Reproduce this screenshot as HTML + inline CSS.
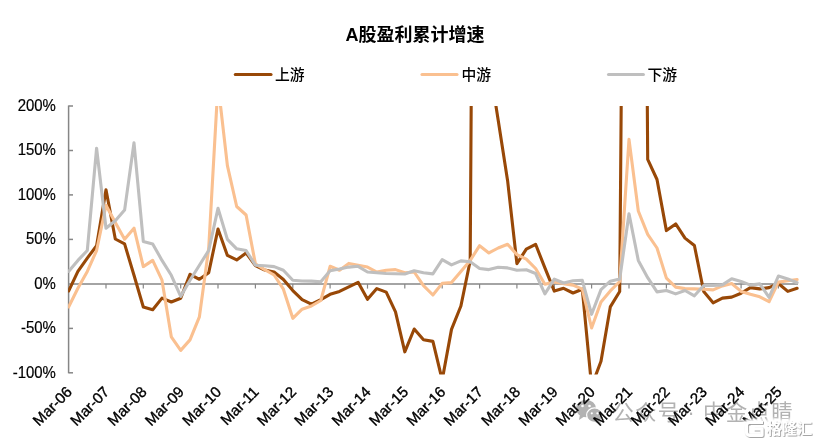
<!DOCTYPE html>
<html><head><meta charset="utf-8"><title>A股盈利累计增速</title>
<style>
html,body{margin:0;padding:0;background:#fff;}
body{width:819px;height:445px;overflow:hidden;font-family:"Liberation Sans","Noto Sans CJK SC",sans-serif;}
svg{display:block}
</style></head><body>
<svg width="819" height="445" viewBox="0 0 819 445" font-family="'Liberation Sans','Noto Sans CJK SC',sans-serif">
<rect width="819" height="445" fill="#fff"/>
<defs><filter id="sh" x="-10%" y="-20%" width="120%" height="150%"><feDropShadow dx="0.7" dy="0.7" stdDeviation="0.55" flood-color="#777" flood-opacity="0.95"/></filter><filter id="glow" x="-20%" y="-40%" width="140%" height="180%"><feGaussianBlur stdDeviation="1.2"/></filter><clipPath id="plot"><rect x="68.1" y="106.1" width="740" height="268.5"/></clipPath></defs>
<text x="415" y="40.8" text-anchor="middle" font-size="18" font-weight="bold" fill="#000">A股盈利累计增速</text>
<g font-size="14.8" font-weight="500" fill="#000">
<line x1="235.3" x2="271" y1="74.5" y2="74.5" stroke="#984807" stroke-width="3.1" stroke-linecap="round"/>
<text x="275" y="80">上游</text>
<line x1="422" x2="457" y1="74.5" y2="74.5" stroke="#FAC090" stroke-width="3.1" stroke-linecap="round"/>
<text x="461.5" y="80">中游</text>
<line x1="608.5" x2="643.4" y1="74.5" y2="74.5" stroke="#BFBFBF" stroke-width="3.1" stroke-linecap="round"/>
<text x="647.5" y="80">下游</text>
</g>
<g stroke="#868686" stroke-width="1.5" fill="none">
<line x1="68.6" x2="68.6" y1="105.6" y2="373.2"/>
<line x1="68.6" x2="73" y1="106.0" y2="106.0"/><line x1="68.6" x2="73" y1="150.5" y2="150.5"/><line x1="68.6" x2="73" y1="194.9" y2="194.9"/><line x1="68.6" x2="73" y1="239.4" y2="239.4"/><line x1="68.6" x2="73" y1="328.4" y2="328.4"/><line x1="68.6" x2="73" y1="372.8" y2="372.8"/>
</g>
<g stroke="#868686" stroke-width="1.5" fill="none">
<line x1="68" x2="798" y1="284" y2="284"/>
</g>
<g stroke="#868686" stroke-width="1.2" fill="none">
<line x1="106.0" x2="106.0" y1="284" y2="288.6"/><line x1="143.3" x2="143.3" y1="284" y2="288.6"/><line x1="180.7" x2="180.7" y1="284" y2="288.6"/><line x1="218.0" x2="218.0" y1="284" y2="288.6"/><line x1="255.4" x2="255.4" y1="284" y2="288.6"/><line x1="292.8" x2="292.8" y1="284" y2="288.6"/><line x1="330.1" x2="330.1" y1="284" y2="288.6"/><line x1="367.5" x2="367.5" y1="284" y2="288.6"/><line x1="404.8" x2="404.8" y1="284" y2="288.6"/><line x1="442.2" x2="442.2" y1="284" y2="288.6"/><line x1="479.6" x2="479.6" y1="284" y2="288.6"/><line x1="516.9" x2="516.9" y1="284" y2="288.6"/><line x1="554.3" x2="554.3" y1="284" y2="288.6"/><line x1="591.6" x2="591.6" y1="284" y2="288.6"/><line x1="629.0" x2="629.0" y1="284" y2="288.6"/><line x1="666.4" x2="666.4" y1="284" y2="288.6"/><line x1="703.7" x2="703.7" y1="284" y2="288.6"/><line x1="741.1" x2="741.1" y1="284" y2="288.6"/><line x1="778.4" x2="778.4" y1="284" y2="288.6"/>
</g>
<g fill="#b2b2b2">
<g transform="translate(576,398.5)">
<ellipse cx="10" cy="10" rx="10" ry="8.7"/>
<path d="M4 16 L3 21.5 L9 17.5 Z"/>
<ellipse cx="18.6" cy="16.6" rx="8" ry="7.2" stroke="#fff" stroke-width="1.2"/>
<path d="M23 22 L25.5 25.5 L19 23.5 Z"/>
<circle cx="6.5" cy="7.5" r="1.3" fill="#fff"/><circle cx="13.5" cy="7.5" r="1.3" fill="#fff"/>
<circle cx="15.8" cy="14.8" r="1.1" fill="#fff"/><circle cx="21.4" cy="14.8" r="1.1" fill="#fff"/>
</g>
<text x="612.3" y="420" font-size="21.5" letter-spacing="1.2">公众号 · 中金点睛</text>
</g>
<g font-size="16" fill="#000" stroke="#000" stroke-width="0.2">
<text transform="translate(55.9,110.7) scale(0.935,1)" text-anchor="end">200%</text>
<text transform="translate(55.9,155.2) scale(0.935,1)" text-anchor="end">150%</text>
<text transform="translate(55.9,199.6) scale(0.935,1)" text-anchor="end">100%</text>
<text transform="translate(55.9,244.1) scale(0.935,1)" text-anchor="end">50%</text>
<text transform="translate(55.9,288.6) scale(0.935,1)" text-anchor="end">0%</text>
<text transform="translate(55.9,333.1) scale(0.935,1)" text-anchor="end">-50%</text>
<text transform="translate(55.9,377.5) scale(0.935,1)" text-anchor="end">-100%</text>
</g>
<g font-size="15.1" fill="#000" stroke="#000" stroke-width="0.35">
<text transform="translate(72.9,392.9) rotate(-45)" text-anchor="end">Mar-06</text>
<text transform="translate(110.3,392.9) rotate(-45)" text-anchor="end">Mar-07</text>
<text transform="translate(147.6,392.9) rotate(-45)" text-anchor="end">Mar-08</text>
<text transform="translate(185.0,392.9) rotate(-45)" text-anchor="end">Mar-09</text>
<text transform="translate(222.3,392.9) rotate(-45)" text-anchor="end">Mar-10</text>
<text transform="translate(259.7,392.9) rotate(-45)" text-anchor="end">Mar-11</text>
<text transform="translate(297.1,392.9) rotate(-45)" text-anchor="end">Mar-12</text>
<text transform="translate(334.4,392.9) rotate(-45)" text-anchor="end">Mar-13</text>
<text transform="translate(371.8,392.9) rotate(-45)" text-anchor="end">Mar-14</text>
<text transform="translate(409.1,392.9) rotate(-45)" text-anchor="end">Mar-15</text>
<text transform="translate(446.5,392.9) rotate(-45)" text-anchor="end">Mar-16</text>
<text transform="translate(483.9,392.9) rotate(-45)" text-anchor="end">Mar-17</text>
<text transform="translate(521.2,392.9) rotate(-45)" text-anchor="end">Mar-18</text>
<text transform="translate(558.6,392.9) rotate(-45)" text-anchor="end">Mar-19</text>
<text transform="translate(595.9,392.9) rotate(-45)" text-anchor="end">Mar-20</text>
<text transform="translate(633.3,392.9) rotate(-45)" text-anchor="end">Mar-21</text>
<text transform="translate(670.7,392.9) rotate(-45)" text-anchor="end">Mar-22</text>
<text transform="translate(708.0,392.9) rotate(-45)" text-anchor="end">Mar-23</text>
<text transform="translate(745.4,392.9) rotate(-45)" text-anchor="end">Mar-24</text>
<text transform="translate(782.7,392.9) rotate(-45)" text-anchor="end">Mar-25</text>
</g>
<g clip-path="url(#plot)" fill="none" stroke-width="3.1" stroke-linejoin="round" stroke-linecap="round">
<polyline stroke="#984807" points="68.6,291.0 77.9,271.4 87.3,258.1 96.6,245.7 106.0,189.8 115.3,239.0 124.6,243.9 134.0,275.3 143.3,307.0 152.7,309.7 162.0,298.1 171.3,302.0 180.7,298.3 190.0,274.3 199.4,279.3 208.7,272.7 218.0,229.0 227.4,255.4 236.7,259.9 246.1,253.0 255.4,265.7 264.7,270.0 274.1,272.0 283.4,279.5 292.8,290.6 302.1,299.7 311.4,304.2 320.8,299.7 330.1,294.3 339.5,291.4 348.8,286.8 358.1,282.3 367.5,299.3 376.8,288.6 386.2,292.1 395.5,311.9 404.8,351.8 414.2,329.0 423.5,339.8 432.9,341.4 442.2,380.0 451.5,329.4 460.9,306.0 470.2,260.8 479.6,-1228.2 488.9,61.5 498.2,120.2 507.6,180.7 516.9,263.6 526.3,249.2 535.6,244.3 544.9,267.9 554.3,291.1 563.6,288.3 573.0,293.0 582.3,289.2 591.6,386.2 601.0,361.3 610.3,306.9 619.7,291.5 629.0,-872.4 638.3,-1139.3 647.7,159.4 657.0,179.5 666.4,230.6 675.7,223.9 685.0,238.1 694.4,245.5 703.7,291.5 713.1,302.8 722.4,298.1 731.7,297.1 741.1,293.3 750.4,287.6 759.8,288.9 769.1,287.6 778.4,283.5 787.8,291.4 797.1,288.3"/>
<polyline stroke="#FAC090" points="68.6,307.0 77.9,288.3 87.3,271.4 96.6,250.5 106.0,205.2 115.3,222.5 124.6,239.2 134.0,228.2 143.3,266.6 152.7,260.4 162.0,280.2 171.3,336.8 180.7,350.4 190.0,339.9 199.4,316.8 208.7,248.3 218.0,83.8 227.4,165.6 236.7,206.5 246.1,215.0 255.4,263.9 264.7,269.7 274.1,275.0 283.4,289.2 292.8,318.3 302.1,309.2 311.4,306.0 320.8,300.5 330.1,266.3 339.5,270.3 348.8,263.4 358.1,265.3 367.5,267.1 376.8,272.0 386.2,270.3 395.5,269.6 404.8,272.8 414.2,272.0 423.5,285.7 432.9,295.0 442.2,283.4 451.5,282.6 460.9,271.4 470.2,260.4 479.6,245.7 488.9,252.9 498.2,248.0 507.6,244.3 516.9,254.6 526.3,259.2 535.6,268.5 544.9,284.3 554.3,281.9 563.6,283.6 573.0,285.1 582.3,289.2 591.6,328.0 601.0,302.0 610.3,290.9 619.7,281.5 629.0,139.4 638.3,211.0 647.7,234.4 657.0,248.0 666.4,278.1 675.7,287.1 685.0,288.6 694.4,288.9 703.7,289.2 713.1,289.9 722.4,285.9 731.7,283.5 741.1,291.4 750.4,294.3 759.8,296.8 769.1,301.7 778.4,282.1 787.8,280.8 797.1,279.5"/>
<polyline stroke="#BFBFBF" points="68.6,271.4 77.9,260.4 87.3,250.5 96.6,148.2 106.0,228.2 115.3,220.7 124.6,210.1 134.0,142.8 143.3,241.4 152.7,243.9 162.0,260.4 171.3,275.3 180.7,296.4 190.0,280.3 199.4,265.2 208.7,250.5 218.0,208.3 227.4,239.4 236.7,248.8 246.1,250.5 255.4,265.2 264.7,265.8 274.1,266.6 283.4,270.3 292.8,280.2 302.1,281.0 311.4,281.1 320.8,281.7 330.1,270.7 339.5,269.0 348.8,267.1 358.1,266.3 367.5,272.0 376.8,272.8 386.2,273.5 395.5,273.8 404.8,274.0 414.2,270.7 423.5,272.8 432.9,273.9 442.2,259.7 451.5,264.9 460.9,260.9 470.2,261.7 479.6,268.5 488.9,269.6 498.2,267.3 507.6,267.9 516.9,270.3 526.3,269.8 535.6,273.5 544.9,293.9 554.3,279.1 563.6,283.0 573.0,280.7 582.3,280.3 591.6,314.3 601.0,289.6 610.3,281.2 619.7,279.0 629.0,213.8 638.3,260.4 647.7,277.7 657.0,291.9 666.4,290.5 675.7,293.9 685.0,290.5 694.4,295.8 703.7,285.5 713.1,285.5 722.4,284.9 731.7,278.8 741.1,281.4 750.4,285.1 759.8,283.9 769.1,297.4 778.4,276.0 787.8,278.9 797.1,282.7"/>
</g>
<g filter="url(#glow)" opacity="0.92">
<g transform="translate(743.5,419.3)" fill="none" stroke="#fff" stroke-width="8" stroke-linejoin="round">
<path d="M19.5 3.2 H6 a3 3 0 0 0 -3 3 V13 a3 3 0 0 0 3 3 H18.5 V9.6 H10.5"/>
</g>
<text x="766.6" y="434.3" font-size="15.2" font-weight="bold" fill="#fff" stroke="#fff" stroke-width="5">格隆汇</text>
</g>
<g filter="url(#sh)">
<g transform="translate(743.5,419.3)" fill="none" stroke="#fff" stroke-width="3.2" stroke-linejoin="round">
<path d="M19.5 3.2 H6 a3 3 0 0 0 -3 3 V13 a3 3 0 0 0 3 3 H18.5 V9.6 H10.5"/>
</g>
<text x="766.6" y="434.3" font-size="15.2" font-weight="bold" fill="#fff">格隆汇</text>
</g>
</svg>
</body></html>
